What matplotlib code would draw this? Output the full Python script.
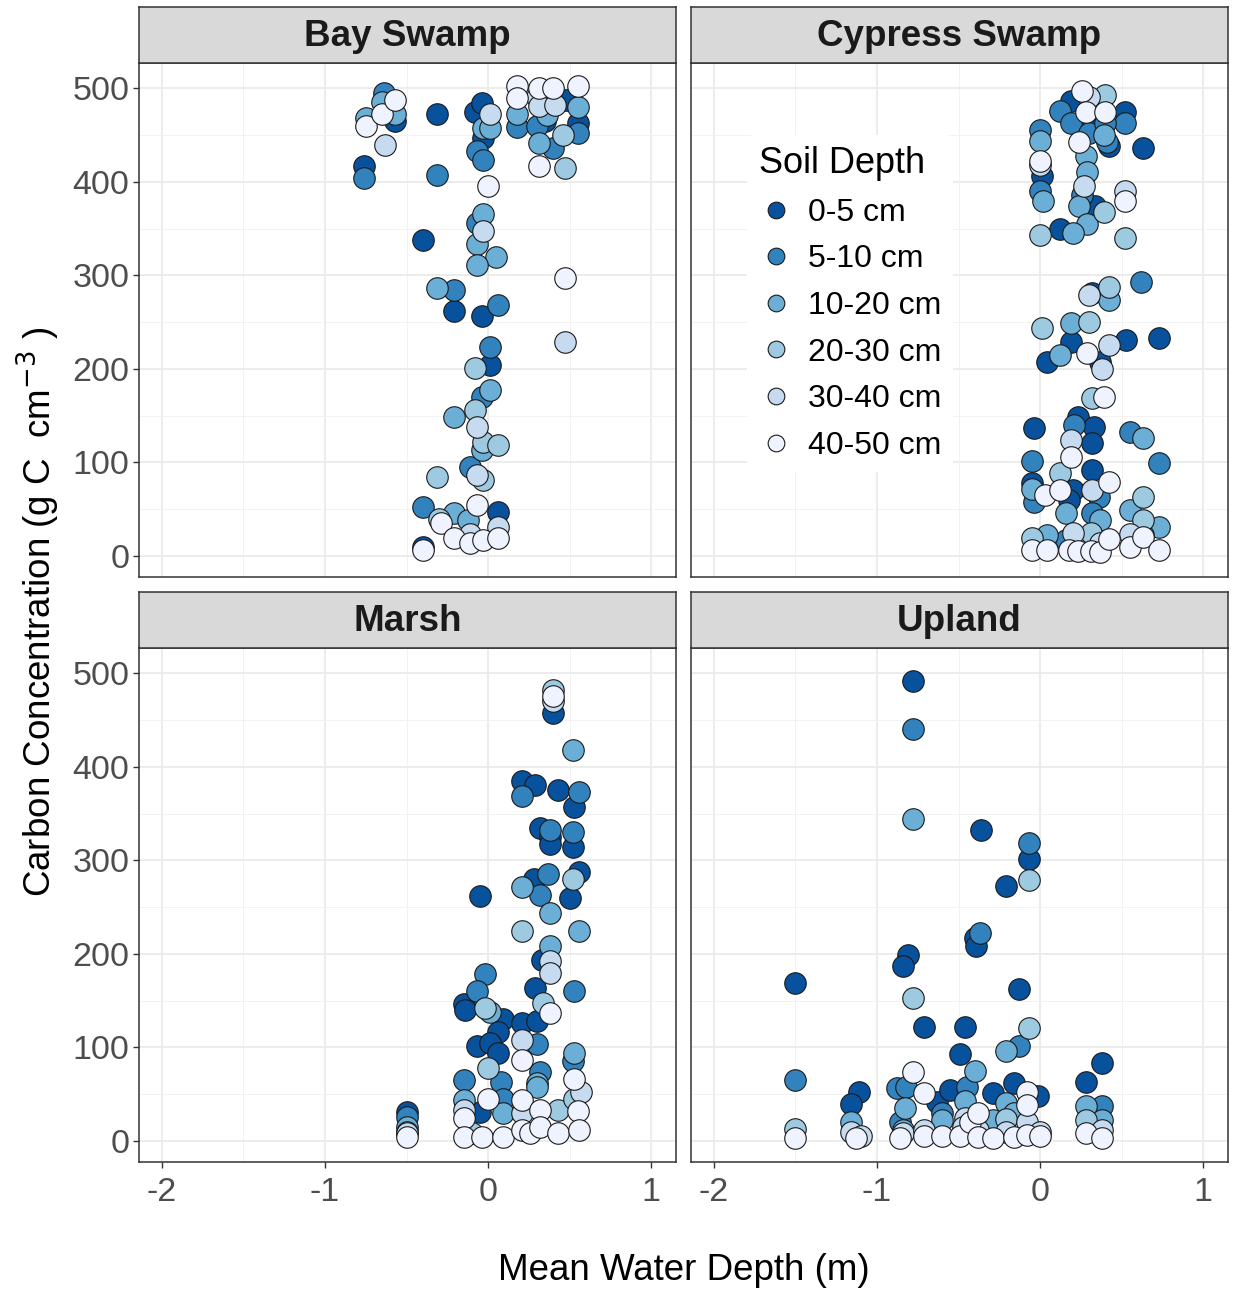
import matplotlib
matplotlib.use("Agg")
import matplotlib.pyplot as plt
from matplotlib.lines import Line2D
from matplotlib.ticker import MultipleLocator

plt.rcParams['font.family'] = ['Liberation Sans', 'DejaVu Sans']

# soil depth classes and their Blues colours
depth_labels = ["0-5 cm", "5-10 cm", "10-20 cm", "20-30 cm", "30-40 cm", "40-50 cm"]
depth_colors = ["#08519C", "#3182BD", "#6BAED6", "#9ECAE1", "#C6DBEF", "#EFF3FF"]
site_names = ["Bay Swamp", "Cypress Swamp", "Marsh", "Upland"]

# (mean water depth m, carbon g C cm-3) for each site and depth class
BAY_0_5 = [(-0.76, 417), (-0.57, 465), (-0.31, 473), (-0.08, 475), (-0.04, 484), (-0.03, 447),
           (0.48, 487), (0.55, 463), (0.35, 465), (-0.4, 338), (-0.21, 262), (-0.04, 257),
           (0.01, 204), (0.06, 47), (-0.4, 10)]
BAY_5_10 = [(-0.76, 404), (-0.64, 495), (-0.31, 407), (-0.07, 433), (-0.03, 423), (0.18, 459),
            (0.3, 460), (0.4, 436), (0.55, 452), (-0.07, 356), (-0.21, 284), (0.06, 268),
            (0.01, 223), (-0.04, 170), (-0.11, 95), (-0.4, 52)]
BAY_10_20 = [(-0.75, 468), (-0.65, 485), (-0.57, 473), (-0.03, 457), (0.01, 457), (0.18, 473),
             (0.36, 471), (0.31, 441), (0.55, 480), (-0.03, 366), (-0.07, 334), (0.05, 320),
             (-0.07, 311), (-0.31, 286), (0.01, 177), (-0.21, 149), (-0.04, 113),
             (-0.21, 46), (-0.12, 38)]
BAY_20_30 = [(0.46, 450), (0.47, 415), (-0.08, 201), (-0.08, 156), (-0.03, 122), (0.06, 119),
             (-0.03, 81), (-0.31, 84), (-0.3, 40)]
BAY_30_40 = [(-0.63, 439), (0.01, 473), (0.3, 491), (0.31, 481), (0.41, 482), (-0.03, 347),
             (0.47, 229), (-0.07, 138), (-0.07, 87), (0.06, 31), (-0.11, 24)]
BAY_40_50 = [(-0.75, 460), (-0.65, 473), (-0.57, 487), (0.18, 502), (0.18, 490), (0.31, 500),
             (0.4, 500), (0.55, 502), (0.31, 417), (0.0, 396), (0.47, 297), (-0.07, 54),
             (-0.29, 35), (-0.21, 19), (-0.11, 14), (-0.03, 17), (0.06, 19), (-0.4, 6)]

CYP_0_5 = [(0.19, 486), (0.52, 475), (0.3, 466), (0.42, 438), (0.63, 436), (0.01, 406),
           (0.29, 370), (0.34, 374), (0.12, 350), (0.32, 281), (0.19, 229), (0.04, 207),
           (0.37, 207), (0.53, 231), (0.73, 233), (-0.04, 137), (0.23, 149), (0.33, 138),
           (0.32, 121), (0.32, 92), (-0.05, 78), (0.2, 70), (0.18, 60)]
CYP_5_10 = [(0.12, 476), (0.19, 463), (0.52, 463), (0.3, 452), (0.4, 463), (0.41, 443),
            (0.0, 455), (0.0, 390), (0.26, 386), (0.62, 293), (0.21, 140), (0.55, 132),
            (-0.05, 102), (0.73, 99), (-0.04, 58), (0.36, 63), (0.32, 46), (0.16, 17)]
CYP_10_20 = [(0.39, 450), (0.28, 428), (0.0, 444), (0.02, 380), (0.29, 411), (0.24, 374),
             (0.29, 355), (0.2, 345), (0.42, 274), (0.19, 249), (0.12, 215), (0.63, 126),
             (-0.05, 72), (0.16, 46), (0.37, 38), (0.55, 49), (0.73, 31), (0.04, 22),
             (0.63, 22)]
CYP_20_30 = [(0.4, 493), (0.39, 368), (0.0, 343), (0.52, 340), (0.42, 288), (0.01, 244),
             (0.3, 250), (0.32, 169), (0.12, 89), (0.63, 63), (0.63, 38), (-0.05, 19),
             (0.31, 25)]
CYP_30_40 = [(0.3, 491), (0.0, 418), (0.27, 396), (0.52, 390), (0.3, 279), (0.42, 225),
             (0.38, 200), (0.19, 124), (0.32, 70), (0.2, 25), (0.37, 14), (0.55, 24)]
CYP_40_50 = [(0.26, 497), (0.28, 475), (0.4, 475), (0.24, 443), (0.0, 422), (0.52, 379),
             (0.29, 217), (0.39, 170), (0.19, 106), (0.42, 79), (0.03, 65), (0.12, 70),
             (-0.05, 6), (0.04, 6), (0.18, 6), (0.23, 5), (0.31, 5), (0.37, 4), (0.42, 18),
             (0.55, 10), (0.63, 20), (0.73, 6)]

MAR_0_5 = [(0.4, 458), (0.21, 385), (0.29, 381), (0.43, 375), (0.53, 357), (0.32, 335),
           (0.38, 325), (0.38, 317), (0.52, 314), (0.28, 280), (0.56, 287), (-0.05, 262),
           (0.5, 260), (0.33, 193), (0.29, 164), (-0.15, 146), (-0.14, 140), (0.09, 130),
           (0.06, 117), (0.21, 126), (0.3, 128), (-0.07, 101), (0.01, 105), (0.06, 94),
           (-0.05, 31), (-0.5, 31)]
MAR_5_10 = [(0.21, 369), (0.56, 373), (0.38, 332), (0.52, 330), (0.37, 285), (0.32, 263),
            (-0.02, 178), (-0.07, 160), (0.53, 160), (0.3, 104), (0.52, 85), (0.32, 74),
            (-0.15, 65), (0.08, 63), (0.09, 45), (-0.5, 26)]
MAR_10_20 = [(0.52, 418), (0.21, 271), (0.38, 244), (0.56, 224), (0.38, 208), (0.01, 138),
             (0.53, 94), (0.3, 62), (0.3, 58), (-0.15, 44), (0.09, 30), (-0.5, 15)]
MAR_20_30 = [(0.4, 482), (0.52, 280), (0.21, 224), (0.34, 148), (-0.02, 142), (0.0, 78),
             (0.43, 33), (0.53, 45), (-0.1, 8), (-0.5, 10)]
MAR_30_40 = [(0.4, 470), (0.38, 192), (0.38, 180), (0.21, 108), (-0.15, 33), (0.21, 30),
             (0.57, 52), (-0.5, 8)]
MAR_40_50 = [(0.4, 476), (0.38, 137), (0.21, 87), (0.53, 66), (0.21, 44), (0.32, 33),
             (0.0, 45), (-0.15, 25), (-0.15, 4), (-0.04, 4), (0.09, 4), (0.21, 12),
             (0.26, 8), (0.32, 15), (0.43, 8), (0.55, 32), (0.56, 12), (-0.5, 4)]

UPL_0_5 = [(-0.78, 492), (-0.36, 332), (-0.07, 301), (-0.21, 273), (-0.4, 217), (-0.39, 208),
           (-0.81, 199), (-0.84, 187), (-1.5, 169), (-0.13, 162), (-0.71, 122), (-0.46, 122),
           (-0.49, 93), (0.38, 83), (0.28, 63), (-1.11, 52), (-1.16, 40), (-0.63, 42),
           (-0.55, 55), (-0.29, 51), (-0.16, 62), (-0.01, 48)]
UPL_5_10 = [(-0.78, 440), (-0.07, 319), (-0.37, 222), (-0.13, 101), (-1.5, 65), (-0.88, 57),
            (-0.82, 58), (-0.45, 58), (0.38, 37), (-0.86, 20), (-0.6, 30)]
UPL_10_20 = [(-0.78, 344), (-0.21, 96), (-0.4, 75), (-0.46, 43), (-0.21, 41), (-0.16, 30),
             (-0.83, 35), (0.28, 37), (0.38, 22), (-1.16, 20), (-0.6, 22), (-0.29, 22),
             (-0.84, 12)]
UPL_20_30 = [(-0.07, 279), (-0.78, 153), (-0.07, 121), (0.28, 22), (-1.5, 13), (-0.21, 24)]
UPL_30_40 = [(-1.16, 10), (-1.1, 5), (-0.84, 8), (-0.71, 12), (-0.46, 25), (-0.47, 15),
             (-0.38, 12), (-0.21, 10), (-0.08, 20), (0.0, 10), (0.38, 12)]
UPL_40_50 = [(-0.78, 74), (-0.71, 51), (-0.08, 52), (-0.08, 38), (-1.5, 3), (-1.13, 3),
             (-0.86, 3), (-0.71, 5), (-0.6, 5), (-0.49, 5), (-0.43, 20), (-0.38, 30),
             (-0.38, 4), (-0.29, 3), (-0.16, 4), (-0.08, 6), (0.0, 5), (0.28, 8), (0.38, 3)]

site_data = [
    [BAY_0_5, BAY_5_10, BAY_10_20, BAY_20_30, BAY_30_40, BAY_40_50],
    [CYP_0_5, CYP_5_10, CYP_10_20, CYP_20_30, CYP_30_40, CYP_40_50],
    [MAR_0_5, MAR_5_10, MAR_10_20, MAR_20_30, MAR_30_40, MAR_40_50],
    [UPL_0_5, UPL_5_10, UPL_10_20, UPL_20_30, UPL_30_40, UPL_40_50],
]

W, H = 1233, 1291
fig = plt.figure(figsize=(W / 100, H / 100), dpi=100)

# panel boxes in pixels: left, strip top; strip and panel heights
lefts = [139, 691, 139, 691]
tops = [7, 7, 592, 592]
pw, strip_h, ph = 537, 56, 514

axes = []
for i, name in enumerate(site_names):
    l, t = lefts[i], tops[i]
    ax = fig.add_axes([l / W, 1 - (t + strip_h + ph) / H, pw / W, ph / H])
    sax = fig.add_axes([l / W, 1 - (t + strip_h) / H, pw / W, strip_h / H])
    sax.set_facecolor("#D9D9D9")
    sax.set_xticks([]); sax.set_yticks([])
    for sp in sax.spines.values():
        sp.set_color("#333333"); sp.set_linewidth(1.1)
    sax.text(0.5, 0.47, name, ha="center", va="center", fontsize=26.5,
             fontweight="bold", color="#1A1A1A", transform=sax.transAxes)

    ax.set_xlim(-2.141, 1.153)
    ax.set_ylim(-22.5, 527)
    ax.xaxis.set_major_locator(MultipleLocator(1))
    ax.xaxis.set_minor_locator(MultipleLocator(0.5))
    ax.yaxis.set_major_locator(MultipleLocator(100))
    ax.yaxis.set_minor_locator(MultipleLocator(50))
    ax.grid(which="major", color="#EBEBEB", linewidth=1.3)
    ax.grid(which="minor", color="#F2F2F2", linewidth=0.7)
    ax.set_axisbelow(True)
    ax.tick_params(which="minor", length=0)
    ax.tick_params(which="major", length=4, width=1, color="#333333",
                   labelsize=24.5, labelcolor="#4D4D4D", pad=3)
    ax.tick_params(axis="x", pad=7)
    for sp in ax.spines.values():
        sp.set_color("#333333"); sp.set_linewidth(1.1)
    if i % 2 == 1:
        ax.tick_params(labelleft=False, left=False)
    if i < 2:
        ax.tick_params(labelbottom=False, bottom=False)
    else:
        ax.set_xticks([-2, -1, 0, 1])
        ax.set_xticklabels(["-2", "-1", "0", "1"])

    for k, pts in enumerate(site_data[i]):
        xs = [p[0] for p in pts]
        ys = [p[1] for p in pts]
        ax.scatter(xs, ys, s=240, c=depth_colors[k], edgecolors="#1A1A1A",
                   linewidths=0.8, zorder=3 + k)
    axes.append(ax)

handles = [Line2D([], [], marker="o", linestyle="", markersize=12,
                  markerfacecolor=c, markeredgecolor="#1A1A1A", markeredgewidth=0.8)
           for c in depth_colors]
leg = axes[1].legend(handles, depth_labels, title="Soil Depth", loc="upper left",
                     bbox_to_anchor=(0.105, 0.86), fontsize=23, title_fontsize=26,
                     frameon=True, facecolor="white", edgecolor="none", framealpha=1,
                     handletextpad=0.45, labelspacing=0.52, borderpad=0.35,
                     handlelength=1.1, borderaxespad=0)
leg._legend_box.align = "left"
leg.set_zorder(20)

fig.text(684 / W, 1 - 1270 / H, "Mean Water Depth (m)", ha="center", va="center",
         fontsize=26.5, color="black")
fig.text(38 / W, 1 - 612 / H, "Carbon Concentration (g C  cm$^{-3}$ )", ha="center",
         va="center", rotation=90, fontsize=26.5, color="black")

fig.savefig("out.png", dpi=100)
